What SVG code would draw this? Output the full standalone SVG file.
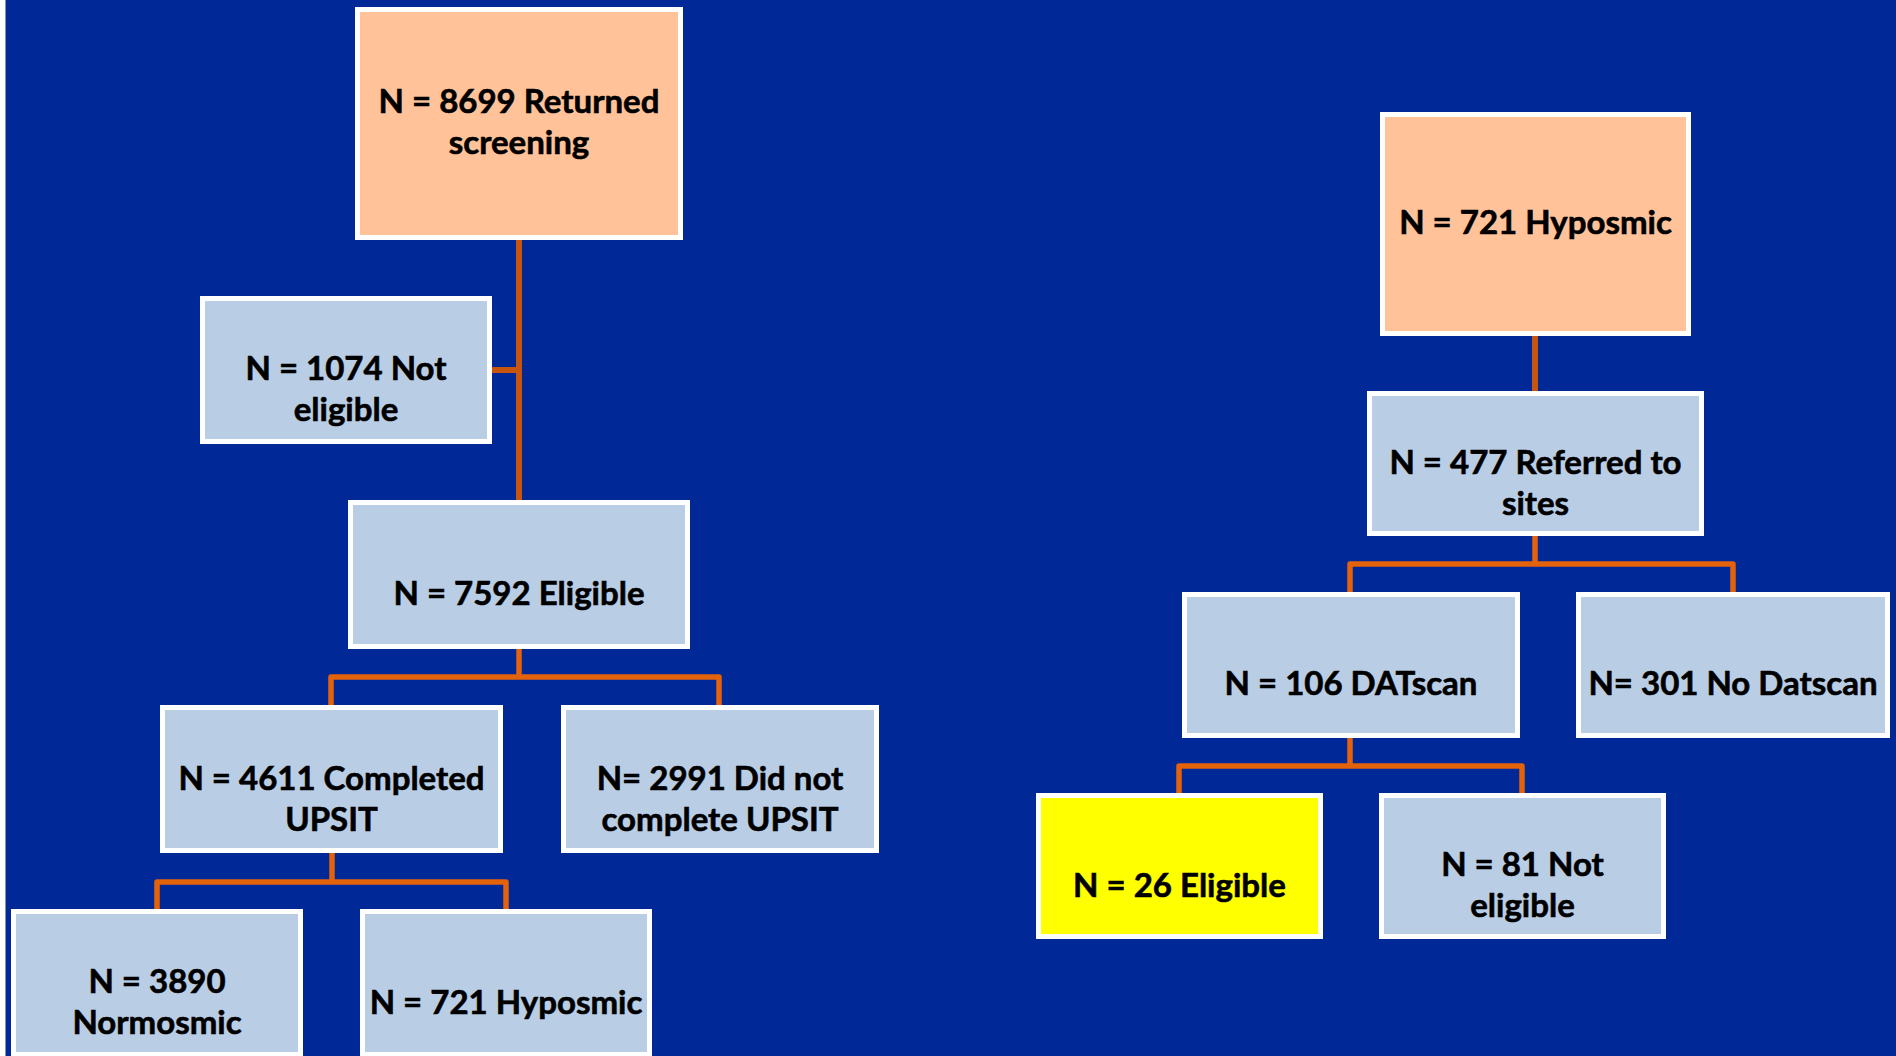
<svg xmlns="http://www.w3.org/2000/svg" width="1896" height="1056" viewBox="0 0 1896 1056">
  <style>
    .box { stroke: #FFFFFF; stroke-width: 5; }
    .blue { fill: #B9CDE5; }
    .peach { fill: #FFC299; }
    .yellow { fill: #FFFF00; }
    .lbl { font-family: Lato, "Open Sans", "Liberation Sans", sans-serif; font-weight: 700; font-size: 33px; fill: #000000; stroke: #000000; stroke-width: 0.6; text-anchor: middle; }
    .trunk { stroke: #C8550E; stroke-width: 6; fill: none; }
    .branch { stroke: #E3620A; stroke-width: 5.5; fill: none; stroke-linejoin: round; }
  </style>

  <!-- backdrop -->
  <rect x="0" y="0" width="1896" height="1056" fill="#FFFFFF"/>
  <rect x="5.5" y="0" width="1890.5" height="1056" fill="#002896"/>

  <!-- connectors -->
  <g id="connectors">
    <path class="trunk" d="M519 240 V500"/>
    <path class="trunk" d="M492 370 H519"/>
    <path class="branch" d="M519 649 V677 M331 705 V677 H719 V705"/>
    <path class="branch" d="M332 853 V882 M157 909 V882 H506 V909"/>
    <path class="trunk" d="M1535 336 V391"/>
    <path class="branch" d="M1535 536 V564 M1350 592 V564 H1733 V592"/>
    <path class="branch" d="M1350 738 V766 M1179 793 V766 H1522 V793"/>
  </g>

  <!-- left tree -->
  <g id="n8699">
    <rect class="box peach" x="357.5" y="9.5" width="323" height="228"/>
    <text class="lbl" x="519" y="113">N = 8699 Returned</text>
    <text class="lbl" x="519" y="154">screening</text>
  </g>
  <g id="n1074">
    <rect class="box blue" x="202.5" y="298.5" width="287" height="143"/>
    <text class="lbl" x="346" y="380">N = 1074 Not</text>
    <text class="lbl" x="346" y="421">eligible</text>
  </g>
  <g id="n7592">
    <rect class="box blue" x="350.5" y="502.5" width="337" height="144"/>
    <text class="lbl" x="519" y="605">N = 7592 Eligible</text>
  </g>
  <g id="n4611">
    <rect class="box blue" x="162.5" y="707.5" width="338" height="143"/>
    <text class="lbl" x="331.5" y="790">N = 4611 Completed</text>
    <text class="lbl" x="331.5" y="831">UPSIT</text>
  </g>
  <g id="n2991">
    <rect class="box blue" x="563.5" y="707.5" width="313" height="143"/>
    <text class="lbl" x="720" y="790">N= 2991 Did not</text>
    <text class="lbl" x="720" y="831">complete UPSIT</text>
  </g>
  <g id="n3890">
    <rect class="box blue" x="13.5" y="911.5" width="287" height="143"/>
    <text class="lbl" x="157" y="993">N = 3890</text>
    <text class="lbl" x="157" y="1034">Normosmic</text>
  </g>
  <g id="n721a">
    <rect class="box blue" x="362.5" y="911.5" width="287" height="143"/>
    <text class="lbl" x="506" y="1014">N = 721 Hyposmic</text>
  </g>

  <!-- right tree -->
  <g id="n721b">
    <rect class="box peach" x="1382.5" y="114.5" width="306" height="219"/>
    <text class="lbl" x="1535.5" y="234">N = 721 Hyposmic</text>
  </g>
  <g id="n477">
    <rect class="box blue" x="1369.5" y="393.5" width="332" height="140"/>
    <text class="lbl" x="1535.5" y="474">N = 477 Referred to</text>
    <text class="lbl" x="1535.5" y="515">sites</text>
  </g>
  <g id="n106">
    <rect class="box blue" x="1184.5" y="594.5" width="333" height="141"/>
    <text class="lbl" x="1351" y="695">N = 106 DATscan</text>
  </g>
  <g id="n301">
    <rect class="box blue" x="1578.5" y="594.5" width="309" height="141"/>
    <text class="lbl" x="1733" y="695">N= 301 No Datscan</text>
  </g>
  <g id="n26">
    <rect class="box yellow" x="1038.5" y="795.5" width="282" height="141"/>
    <text class="lbl" x="1179.5" y="897">N = 26 Eligible</text>
  </g>
  <g id="n81">
    <rect class="box blue" x="1381.5" y="795.5" width="282" height="141"/>
    <text class="lbl" x="1522.5" y="876">N = 81 Not</text>
    <text class="lbl" x="1522.5" y="917">eligible</text>
  </g>
</svg>
